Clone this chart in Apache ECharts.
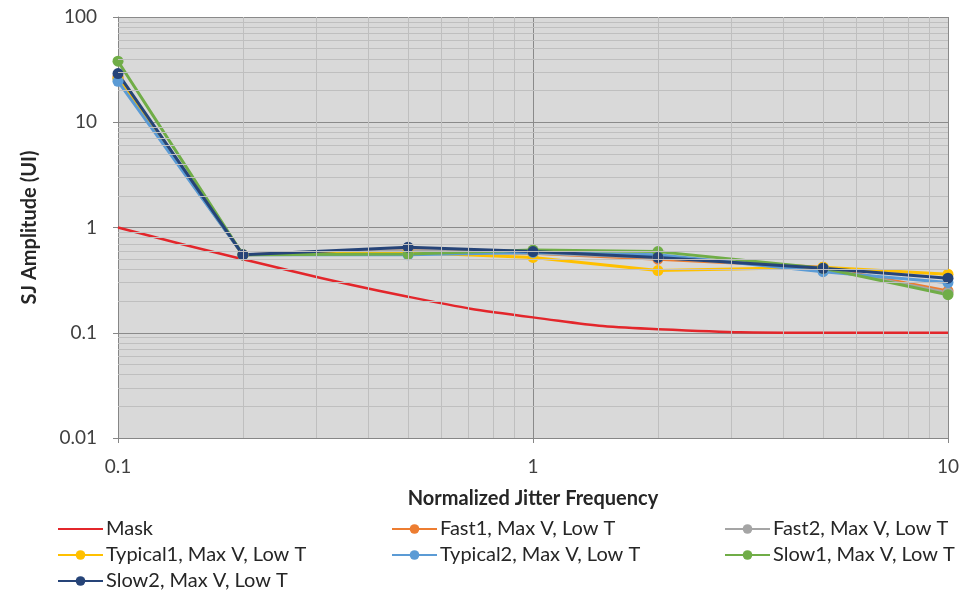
<!DOCTYPE html>
<html>
<head>
<meta charset="utf-8">
<script src="https://cdn.jsdelivr.net/npm/echarts@6/dist/echarts.min.js"></script>
<style>
  html, body { margin: 0; padding: 0; background: #fff; }
  #chart { width: 965px; height: 593px; }
</style>
</head>
<body>
<div id="chart"></div>
<script>
// normalized jitter frequency (x) and SJ amplitude in UI (y)
const freq = [0.1, 0.2, 0.5, 1, 2, 5, 10]
const mask = [1.0, 0.5, 0.22, 0.14, 0.108, 0.1, 0.1]
const fast1 = [27, 0.55, 0.6, 0.57, 0.5, 0.42, 0.25]
const fast2 = [26, 0.55, 0.6, 0.57, 0.52, 0.41, 0.24]
const typical1 = [26, 0.55, 0.58, 0.52, 0.39, 0.42, 0.36]
const typical2 = [24.5, 0.55, 0.55, 0.58, 0.55, 0.38, 0.3]
const slow1 = [38, 0.55, 0.56, 0.61, 0.59, 0.41, 0.23]
const slow2 = [29, 0.55, 0.65, 0.59, 0.52, 0.41, 0.33]

// minor grid positions (2..9 in every decade)
const xMinor = []
const yMinor = []
;[0.1, 1].forEach(d => { for (let k = 2; k < 10; k++) xMinor.push(+(d * k).toPrecision(3)) })
;[0.01, 0.1, 1, 10].forEach(d => { for (let k = 2; k < 10; k++) yMinor.push(+(d * k).toPrecision(3)) })

const font = 'Lato, "Open Sans", sans-serif'
const pair = arr => freq.map((f, i) => [f, arr[i]])

function dataSeries(name, arr, color) {
  return {
    name: name,
    type: 'line',
    z: 3,
    data: pair(arr),
    symbol: 'circle',
    symbolSize: 11,
    showAllSymbol: true,
    lineStyle: { width: 3, color: color },
    itemStyle: { color: color },
  }
}

function legendCol(left, items) {
  return {
    left: left,
    top: 514,
    height: 79,
    orient: 'vertical',
    itemGap: 6,
    itemWidth: 45,
    itemHeight: 12,
    textStyle: { fontFamily: font, fontSize: 20, lineHeight: 20, color: '#262626', padding: [0, 0, 0, -2] },
    data: items,
  }
}

const chart = echarts.init(document.getElementById('chart'))
const option = {
  animation: false,
  textStyle: { fontFamily: font },
  grid: {
    left: 118,
    right: 17,
    top: 17,
    bottom: 155,
    show: true,
    backgroundColor: '#d9d9d9',
    borderWidth: 0,
  },
  legend: [
    legendCol(52, [{ name: 'Mask', itemStyle: { opacity: 0 } }, 'Typical1, Max V, Low T', 'Slow2, Max V, Low T']),
    legendCol(386, ['Fast1, Max V, Low T', 'Typical2, Max V, Low T']),
    legendCol(719, ['Fast2, Max V, Low T', 'Slow1, Max V, Low T']),
  ],
  xAxis: {
    type: 'log',
    logBase: 10,
    min: 0.1,
    max: 10,
    interval: 1,
    name: 'Normalized Jitter Frequency',
    nameLocation: 'middle',
    nameGap: 51,
    nameTextStyle: { fontFamily: font, fontSize: 20, fontWeight: 'bold', color: '#262626' },
    axisLine: { show: true, lineStyle: { color: '#868686', width: 1 } },
    axisTick: { show: true, length: 5, lineStyle: { color: '#868686' } },
    axisLabel: { fontFamily: font, fontSize: 19, color: '#404040', margin: 19 },
    splitLine: { show: true, lineStyle: { color: '#8a8a8a', width: 1 } },
  },
  yAxis: {
    type: 'log',
    logBase: 10,
    min: 0.01,
    max: 100,
    interval: 1,
    name: 'SJ Amplitude (UI)',
    nameLocation: 'middle',
    nameGap: 78,
    nameTextStyle: { fontFamily: font, fontSize: 20, fontWeight: 'bold', color: '#262626' },
    axisLine: { show: true, lineStyle: { color: '#868686', width: 1 } },
    axisTick: { show: true, length: 5, lineStyle: { color: '#868686' } },
    axisLabel: { fontFamily: font, fontSize: 19, color: '#404040', margin: 21 },
    splitLine: { show: true, lineStyle: { color: '#8a8a8a', width: 1 } },
  },
  series: [
    {
      name: 'minor-grid',
      type: 'line',
      data: [],
      silent: true,
      z: 1,
      markLine: {
        silent: true,
        symbol: ['none', 'none'],
        label: { show: false },
        lineStyle: { color: '#bfbfbf', width: 1, type: 'solid' },
        animation: false,
        data: xMinor.map(v => ({ xAxis: v })).concat(yMinor.map(v => ({ yAxis: v }))),
      },
    },
    {
      name: 'Mask',
      type: 'line',
      z: 2,
      data: pair(mask),
      smooth: 0.5,
      symbol: 'none',
      lineStyle: { width: 2.5, color: '#e3262b' },
      itemStyle: { color: '#e3262b' },
    },
    dataSeries('Fast1, Max V, Low T', fast1, '#ed7d31'),
    dataSeries('Fast2, Max V, Low T', fast2, '#a5a5a5'),
    dataSeries('Typical1, Max V, Low T', typical1, '#ffc000'),
    dataSeries('Typical2, Max V, Low T', typical2, '#5b9bd5'),
    dataSeries('Slow1, Max V, Low T', slow1, '#70ad47'),
    dataSeries('Slow2, Max V, Low T', slow2, '#264478'),
  ],
}
chart.setOption(option)
</script>
</body>
</html>
